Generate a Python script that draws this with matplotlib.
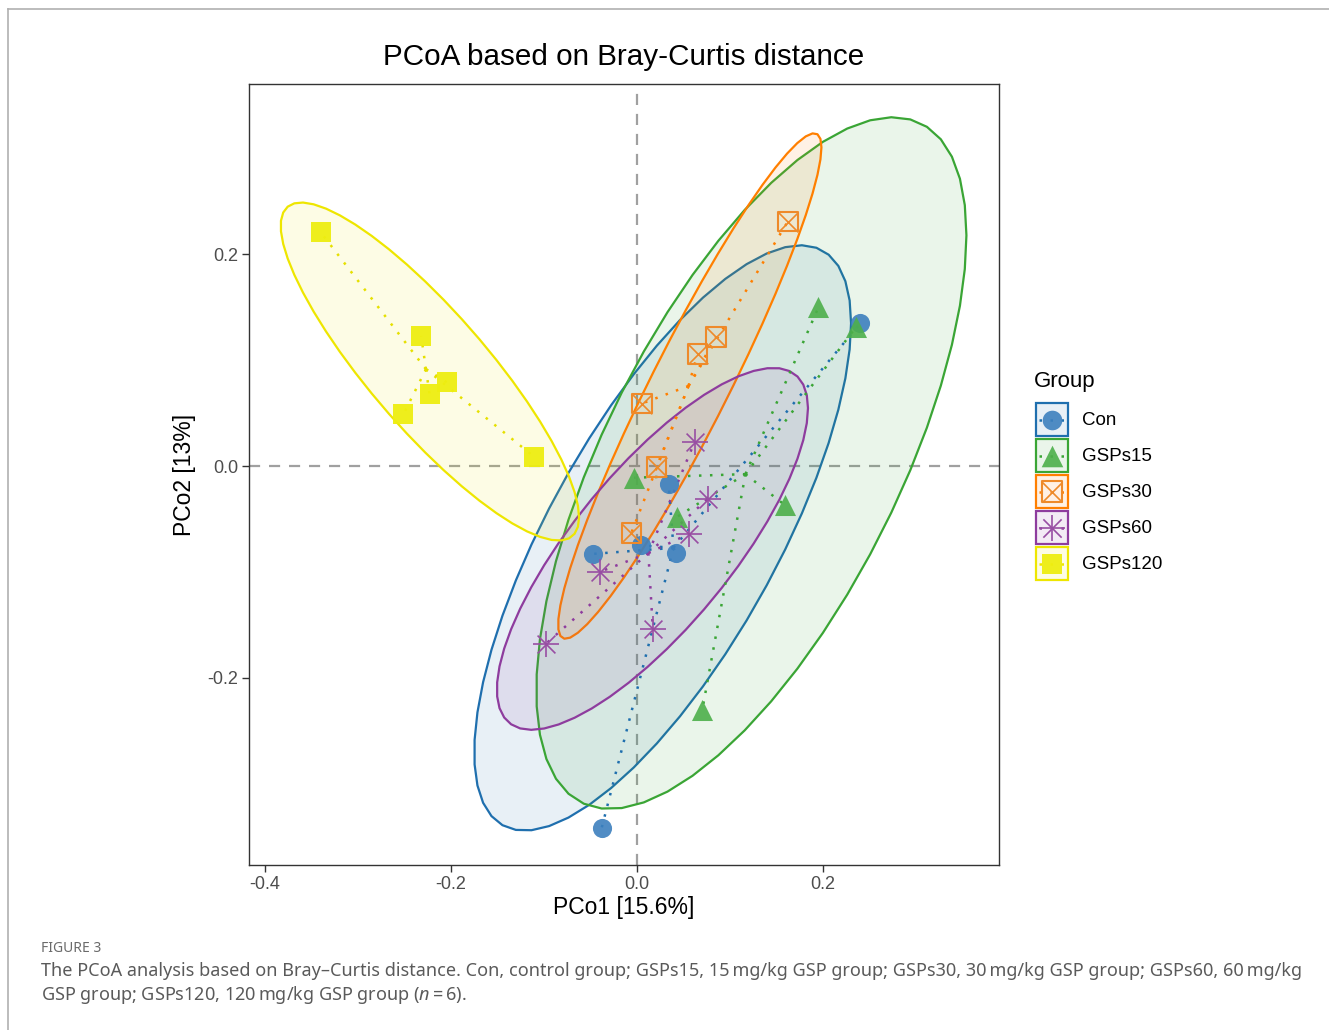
import numpy as np
import matplotlib
matplotlib.use("Agg")
import matplotlib.pyplot as plt
from matplotlib.patches import Polygon, Rectangle
from matplotlib.lines import Line2D
from matplotlib.colors import to_rgba

plt.rcParams['font.family'] = ['Liberation Sans', 'DejaVu Sans']

# ---- data ----
groups = ["Con", "GSPs15", "GSPs30", "GSPs60", "GSPs120"]
con_x = [0.240, 0.034, -0.047, 0.004, 0.042, -0.038]
con_y = [0.135, -0.017, -0.083, -0.075, -0.082, -0.342]
g15_x = [0.195, 0.235, -0.003, 0.043, 0.159, 0.070]
g15_y = [0.150, 0.131, -0.011, -0.048, -0.037, -0.231]
g30_x = [0.162, 0.085, 0.065, 0.005, 0.021, -0.006]
g30_y = [0.231, 0.122, 0.106, 0.059, -0.001, -0.063]
g60_x = [0.062, 0.076, 0.056, -0.040, 0.017, -0.098]
g60_y = [0.023, -0.031, -0.064, -0.100, -0.154, -0.168]
g120_x = [-0.340, -0.232, -0.223, -0.204, -0.251, -0.111]
g120_y = [0.221, 0.123, 0.068, 0.079, 0.049, 0.009]
xs = [con_x, g15_x, g30_x, g60_x, g120_x]
ys = [con_y, g15_y, g30_y, g60_y, g120_y]

pc1_pct = 15.6
pc2_pct = 13
ellipse_level = 0.9

pt_cols = ['#3D80BE', '#4DAF4A', '#EE8A2A', '#984EA3', '#EEEE11']
line_cols = ['#1F6FAE', '#3AA535', '#FF7F00', '#8E3C9E', '#EEE600']
spider = (0, (1, 3.4))


def cov_trob(x, nu=5, maxit=25, tol=0.01):
    # MASS::cov.trob, as used by ggplot2 stat_ellipse(type = "t")
    n, p = x.shape
    loc = x.mean(axis=0)
    w = np.ones(n)
    for _ in range(maxit):
        w0 = w
        X = x - loc
        _, d, vt = np.linalg.svd(np.sqrt(w / w.sum())[:, None] * X, full_matrices=False)
        wX = X @ vt.T @ np.diag(1 / d)
        Q = (wX ** 2).sum(axis=1)
        w = (nu + p) / (nu + Q)
        loc = (w[:, None] * x).sum(axis=0) / w.sum()
        if np.all(np.abs(w - w0) < tol):
            break
    cov = (np.sqrt(w)[:, None] * X).T @ (np.sqrt(w)[:, None] * X) / n
    return cov, loc


def ellipse_pts(xv, yv, level=0.95, segments=51):
    data = np.column_stack([xv, yv])
    cov, center = cov_trob(data)
    dfd = len(xv) - 1
    fq = dfd / 2 * ((1 - level) ** (-2 / dfd) - 1)   # qf(level, 2, dfd)
    radius = np.sqrt(2 * fq)
    ang = np.arange(segments) * 2 * np.pi / segments
    circ = np.column_stack([np.cos(ang), np.sin(ang)])
    L = np.linalg.cholesky(cov)
    return center + radius * (circ @ L.T)


def draw_marker(ax, x, y, i, scale=1.0, z=5):
    col = pt_cols[i]
    if i == 0:
        ax.scatter(x, y, s=190 * scale, marker='o', color=col, alpha=0.9, linewidths=0, zorder=z)
    elif i == 1:
        ax.scatter(x, y, s=230 * scale, marker='^', color=col, alpha=0.9, linewidths=0, zorder=z)
    elif i == 2:
        ax.scatter(x, y, s=200 * scale, marker='s', facecolors='none', edgecolors=col, linewidths=1.5, zorder=z)
        ax.scatter(x, y, s=200 * scale, marker='x', color=col, linewidths=1.2, zorder=z)
    elif i == 3:
        ax.scatter(x, y, s=330 * scale, marker='+', color=col, linewidths=1.2, zorder=z)
        ax.scatter(x, y, s=330 * scale * 0.5, marker='x', color=col, linewidths=1.2, zorder=z)
    else:
        ax.scatter(x, y, s=200 * scale, marker='s', color=col, alpha=0.95, linewidths=0, zorder=z)


fig = plt.figure(figsize=(13.29, 10.30), dpi=100)
ax = fig.add_axes([249 / 1329, 165 / 1030, 750 / 1329, 781 / 1030])

for i, g in enumerate(groups):
    ell = ellipse_pts(xs[i], ys[i], level=ellipse_level)
    ax.add_patch(Polygon(ell, closed=True, facecolor=to_rgba(line_cols[i], 0.1),
                         edgecolor=line_cols[i], lw=1.6, joinstyle='round', zorder=2))

ax.axhline(0, color='#A0A0A0', ls=(0, (5, 4)), lw=1.6, zorder=1)
ax.axvline(0, color='#A0A0A0', ls=(0, (5, 4)), lw=1.6, zorder=1)

for i, g in enumerate(groups):
    cx, cy = np.mean(xs[i]), np.mean(ys[i])
    for px, py in zip(xs[i], ys[i]):
        ax.plot([cx, px], [cy, py], color=line_cols[i] if i != 4 else '#E6E000', ls=spider,
                lw=1.8, zorder=4)
    draw_marker(ax, xs[i], ys[i], i)

ax.set_xlim(-0.417, 0.389)
ax.set_ylim(-0.377, 0.361)
ax.set_xticks([-0.4, -0.2, 0.0, 0.2])
ax.set_yticks([-0.2, 0.0, 0.2])
ax.set_xticklabels(['-0.4', '-0.2', '0.0', '0.2'])
ax.set_yticklabels(['-0.2', '0.0', '0.2'])
ax.tick_params(length=5, width=1, color='#333333', labelsize=13, labelcolor='#4D4D4D', pad=3)
for sp in ax.spines.values():
    sp.set_color('#333333')
    sp.set_linewidth(1.0)
ax.set_xlabel(f"PCo1 [{pc1_pct}%]", fontsize=16.5, labelpad=2)
ax.set_ylabel(f"PCo2 [{pc2_pct}%]", fontsize=16.5, labelpad=8)
ax.set_title("PCoA based on Bray-Curtis distance", fontsize=21.3, pad=14)

# ---- legend (drawn by hand, ggplot style keys) ----
lax = fig.add_axes([1030 / 1329, 440 / 1030, 200 / 1329, 230 / 1030])
lax.set_xlim(1030, 1230)
lax.set_ylim(590, 360)
lax.axis('off')
lax.text(1034, 381, "Group", fontsize=16, va='center', ha='left')
for i, g in enumerate(groups):
    y0 = 403 + 36 * i
    lax.add_patch(Rectangle((1036, y0), 32, 33, facecolor=to_rgba(line_cols[i], 0.1),
                            edgecolor=line_cols[i], lw=1.6))
    lax.plot([1039, 1066], [y0 + 16.5, y0 + 16.5], color=line_cols[i], ls=spider, lw=1.8)
    draw_marker(lax, [1052], [y0 + 16.5], i, scale=1.05)
    lax.text(1082, y0 + 17, g, fontsize=13.5, va='center', ha='left')

# ---- page frame and caption ----
fig.add_artist(Line2D([8 / 1329, 1.0], [1 - 9 / 1030, 1 - 9 / 1030], color='#B0B0B0', lw=1.2))
fig.add_artist(Line2D([8 / 1329, 8 / 1329], [0.0, 1 - 9 / 1030], color='#B0B0B0', lw=1.2))

plt.rcParams['mathtext.fontset'] = 'custom'
plt.rcParams['mathtext.it'] = 'Noto Sans:italic'
fig.text(41 / 1329, 1 - 948 / 1030, "FIGURE 3", fontsize=10, color='#6A6A6A', va='center',
         family='Noto Sans')
fig.text(41 / 1329, 1 - 971 / 1030,
         "The PCoA analysis based on Bray\u2013Curtis distance. Con, control group; GSPs15, 15\u2009mg/kg GSP group; "
         "GSPs30, 30\u2009mg/kg GSP group; GSPs60, 60\u2009mg/kg",
         fontsize=13.0, color='#5A5A5A', va='center', family='Noto Sans')
fig.text(41 / 1329, 1 - 995 / 1030,
         "GSP group; GSPs120, 120\u2009mg/kg GSP group ($n$\u2009=\u20096).",
         fontsize=13.0, color='#5A5A5A', va='center', family='Noto Sans')

fig.savefig("out.png", dpi=100)
